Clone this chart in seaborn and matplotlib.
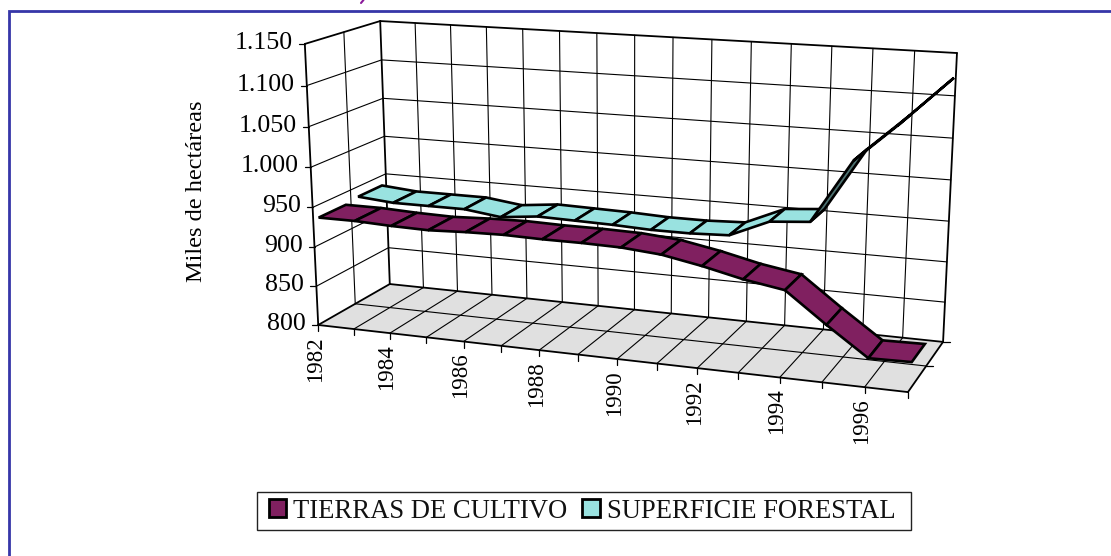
"""Cinta 3D: tierras de cultivo y superficie forestal"""
import numpy as np
import pandas as pd
import matplotlib
matplotlib.use('Agg')
import matplotlib.pyplot as plt
from matplotlib.patches import Patch, Rectangle
import seaborn as sns

years = list(range(1982, 1998))
cultivo = [934, 934, 932, 931, 933, 934, 933, 933, 932, 928, 919, 908, 900, 864, 830, 831]
forestal = [937, 933, 933, 933, 927, 932, 931, 930, 928, 928, 930, 951, 955, 1032, 1076, 1123]
value_ticks = [800, 850, 900, 950, 1000, 1050, 1100, 1150]
value_labels = ['800', '850', '900', '950', '1.000', '1.050', '1.100', '1.150']
series_names = ['TIERRAS DE CULTIVO', 'SUPERFICIE FORESTAL']

PURPLE = '#802060'
CYAN = '#99E2E0'
CYAN_DARK = '#4D7170'
FLOOR = '#E0E0E0'
BLUE = '#3636A8'

# esquinas de la caja 3D: (anio, profundidad, valor) -> pixel
corners = [
    ((0, 0, 0), (318, 325)), ((0, 0, 1), (305, 44)),
    ((0, 1, 0), (390, 284)), ((0, 1, 1), (380, 21)),
    ((1, 0, 0), (908, 392)), ((1, 1, 0), (943, 342)),
    ((1, 1, 1), (957, 53)),
]


def fit_projection(pairs):
    """Resolver la homografia 3D -> 2D"""
    rows = []
    for (a, b, c), (px, py) in pairs:
        rows.append([a, b, c, 1, 0, 0, 0, 0, -px * a, -px * b, -px * c, -px])
        rows.append([0, 0, 0, 0, a, b, c, 1, -py * a, -py * b, -py * c, -py])
    _, _, vt = np.linalg.svd(np.array(rows, dtype=float))
    return vt[-1].reshape(3, 4)


P = fit_projection(corners)


def project(year, depth, value):
    """Pasar anio, profundidad y valor a pixeles"""
    u = (np.asarray(year, dtype=float) - years[0]) / (years[-1] - years[0])
    h = (np.asarray(value, dtype=float) - value_ticks[0]) / (value_ticks[-1] - value_ticks[0])
    u, d, h = np.broadcast_arrays(u, depth, h)
    w = np.stack([u, d, h, np.ones_like(u, dtype=float)])
    q = P @ w
    return q[0] / q[2], q[1] / q[2]


def draw_segments(ax, segments, lw, zorder=2):
    """Dibujar varios segmentos con seaborn"""
    rows = []
    for i, (x, y) in enumerate(segments):
        rows.append(pd.DataFrame({'x': x, 'y': y, 'seg': i}))
    df = pd.concat(rows, ignore_index=True)
    sns.lineplot(data=df, x='x', y='y', units='seg', estimator=None, sort=False,
                 color='black', linewidth=lw, legend=False, ax=ax, zorder=zorder)


def draw_ribbon(ax, values, d0, d1, color, under, zorder):
    """Cinta de una serie, tramo a tramo"""
    fx, fy = project(years, d0, values)
    bx, by = project(years, d1, values)
    for i in range(len(years) - 1):
        xs = np.array([fx[i], fx[i + 1], bx[i + 1], bx[i]])
        ys = np.array([fy[i], fy[i + 1], by[i + 1], by[i]])
        area = np.dot(xs, np.roll(ys, -1)) - np.dot(ys, np.roll(xs, -1))
        face = color if area < 0 else under
        ax.fill(xs, ys, facecolor=face, edgecolor='black', linewidth=1.9,
                joinstyle='miter', zorder=zorder)


sns.set_theme(style='white')
plt.rcParams['font.family'] = ['Liberation Serif', 'DejaVu Serif']

fig = plt.figure(figsize=(11.11, 5.56), dpi=100)
ax = fig.add_axes([0, 0, 1, 1])
ax.set_xlim(0, 1111)
ax.set_ylim(556, 0)
ax.axis('off')

# marco azul de la pagina y resto del titulo recortado
ax.plot([9, 9, 1111], [556, 11, 11], color=BLUE, linewidth=2.0, solid_joinstyle='miter')
ax.plot([363.5, 361], [0, 3], color='#8B1A9B', linewidth=1.5)

y0, y1 = years[0], years[-1]
v0, v1 = value_ticks[0], value_ticks[-1]

# suelo
fx, fy = zip(*[project(a, b, v0) for a, b in [(y0, 0), (y1, 0), (y1, 1), (y0, 1)]])
ax.fill(fx, fy, facecolor=FLOOR, edgecolor='none', zorder=1)

# rejilla fina
grid = []
for v in value_ticks[1:-1]:
    grid.append(project([y0, y0], [0, 1], [v, v]))
    grid.append(project([y0, y1], [1, 1], [v, v]))
for yr in years[1:-1]:
    grid.append(project([yr, yr], [1, 1], [v0, v1]))
for yr in years[1:-1]:
    grid.append(project([yr, yr], [0, 1], [v0, v0]))
grid.append(project([y0, y0], [0.5, 0.5], [v0, v1]))
grid.append(project([y0, y1], [0.5, 0.5], [v0, v0]))
draw_segments(ax, grid, 0.8)

# marco negro de la caja
frame = [
    project([y0, y0], [0, 0], [v0, v1]),
    project([y0, y0], [0, 1], [v1, v1]),
    project([y0, y1], [1, 1], [v1, v1]),
    project([y0, y0], [1, 1], [v0, v1]),
    project([y1, y1], [1, 1], [v0, v1]),
    project([y0, y1], [0, 0], [v0, v0]),
    project([y1, y1], [0, 1], [v0, v0]),
    project([y0, y0], [0, 1], [v0, v0]),
    project([y0, y1], [1, 1], [v0, v0]),
]
draw_segments(ax, frame, 1.3, zorder=3)

# marcas y etiquetas
ticks = []
for v, lab in zip(value_ticks, value_labels):
    px, py = project(y0, 0, v)
    ticks.append(([px - 6, px], [py, py]))
    ax.text(px - 12, py - 1, lab, fontsize=18.6, color='black', ha='right', va='center')
for yr in years:
    px, py = project(yr, 0, v0)
    ticks.append(([px, px], [py, py + 6]))
    if (yr - y0) % 2 == 0:
        ax.text(px - 3, py + 11, str(yr), fontsize=16.5, color='black', rotation=90,
                ha='center', va='top')
for d in [0.5, 1]:
    px, py = project(y1, d, v0)
    ticks.append(([px, px + 7], [py, py]))
draw_segments(ax, ticks, 0.9, zorder=3)

ax.text(196, 191, 'Miles de hectáreas', fontsize=17.5, color='black', rotation=90,
        ha='center', va='center')

# series: primero la del fondo
draw_ribbon(ax, forestal, 0.60, 0.94, CYAN, CYAN_DARK, 4)
draw_ribbon(ax, cultivo, 0.07, 0.43, PURPLE, PURPLE, 5)

# leyenda con caja propia
ax.add_patch(Rectangle((257, 492), 654, 38, facecolor='white', edgecolor='#222222',
                       linewidth=1.0, zorder=6))
handles = [Patch(facecolor=PURPLE, edgecolor='black', linewidth=2),
           Patch(facecolor=CYAN, edgecolor='black', linewidth=2)]
leg = ax.legend(handles, series_names, loc='center', bbox_to_anchor=(582, 511),
                bbox_transform=ax.transData, ncol=2, frameon=False, fontsize=19.2,
                labelcolor='#111111', handlelength=0.66, handleheight=0.66,
                handletextpad=0.26, columnspacing=0.56, borderpad=0, borderaxespad=0)
leg.set_zorder(7)

fig.savefig('out.png', dpi=100)
